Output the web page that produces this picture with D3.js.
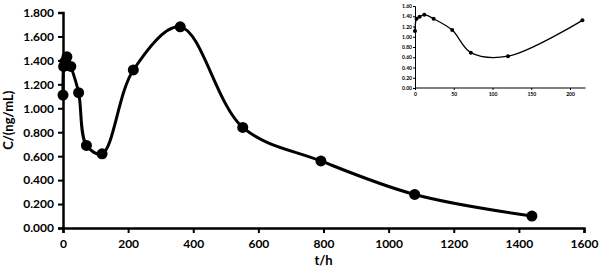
<!DOCTYPE html>
<html>
<head>
<meta charset="utf-8">
<script src="https://cdn.jsdelivr.net/npm/d3@7"></script>
<style>
  body { margin: 0; background: #fff; }
  text { font-family: Lato, "Open Sans", sans-serif; font-weight: bold; fill: #000; }
</style>
</head>
<body>
<div id="chartVis"></div>
<script>
// data
var times = [0, 2, 6, 12, 24, 48, 72, 120, 216, 360, 552, 792, 1080, 1440];
var conc = [1.11, 1.35, 1.39, 1.43, 1.35, 1.13, 0.69, 0.62, 1.32, 1.68, 0.84, 0.56, 0.28, 0.10];
var xTicks = [0, 200, 400, 600, 800, 1000, 1200, 1400, 1600];
var yTicks = [0, 0.2, 0.4, 0.6, 0.8, 1.0, 1.2, 1.4, 1.6, 1.8];
var insetXTicks = [0, 50, 100, 150, 200];
var insetYTicks = [0, 0.2, 0.4, 0.6, 0.8, 1.0, 1.2, 1.4, 1.6];
var insetMaxT = 216;

var data = times.map((t, i) => ({ t: t, c: conc[i] }));

var width = 602, height = 272;
var svg = d3.select("#chartVis").append("svg")
  .attr("width", width)
  .attr("height", height);

// main plot
var x = d3.scaleLinear().domain([0, 1600]).range([63, 584]);
var y = d3.scaleLinear().domain([0, 1.8]).range([228, 12.5]);

var xAxis = svg.append("g")
  .attr("transform", "translate(0," + y(0) + ")")
  .call(d3.axisBottom(x).tickValues(xTicks).tickSize(5).tickPadding(6).tickFormat(d3.format("d")));
var yAxis = svg.append("g")
  .attr("transform", "translate(" + x(0) + ",0)")
  .call(d3.axisLeft(y).tickValues(yTicks).tickSize(5).tickPadding(4).tickFormat(d3.format(".3f")));

[xAxis, yAxis].forEach(a => {
  a.selectAll("path, line").attr("stroke", "#000").attr("stroke-width", 2);
  a.select(".domain").attr("stroke-width", 2.5);
  a.selectAll("text").style("font-size", "12px").style("font-family", "Lato, sans-serif").style("font-weight", "bold");
});

var line = d3.line()
  .x(d => x(d.t))
  .y(d => y(d.c))
  .curve(d3.curveCatmullRom.alpha(0.5));

svg.append("path")
  .datum(data)
  .attr("d", line)
  .attr("fill", "none")
  .attr("stroke", "#000")
  .attr("stroke-width", 3);

svg.selectAll(".pt")
  .data(data)
  .enter().append("circle")
  .attr("cx", d => x(d.t))
  .attr("cy", d => y(d.c))
  .attr("r", 5.5)
  .attr("fill", "#000");

svg.append("text")
  .attr("transform", "translate(13," + y(0.9) + ") rotate(-90)")
  .attr("text-anchor", "middle")
  .style("font-size", "13px")
  .text("C/(ng/mL)");

svg.append("text")
  .attr("x", x(800))
  .attr("y", 265)
  .attr("text-anchor", "middle")
  .style("font-size", "13px")
  .text("t/h");

// inset
var insetData = data.filter(d => d.t <= insetMaxT);
var ix = d3.scaleLinear().domain([0, 200]).range([415, 570]);
var iy = d3.scaleLinear().domain([0, 1.6]).range([88, 6]);

var ixAxis = svg.append("g")
  .attr("transform", "translate(0," + iy(0) + ")")
  .call(d3.axisBottom(ix).tickValues(insetXTicks).tickSize(2).tickPadding(2).tickFormat(d3.format("d")));
ixAxis.select(".domain").attr("d", "M" + ix(0) + ",0H" + ix(insetMaxT + 4));
var iyAxis = svg.append("g")
  .attr("transform", "translate(" + ix(0) + ",0)")
  .call(d3.axisLeft(iy).tickValues(insetYTicks).tickSize(2).tickPadding(1).tickFormat(d3.format(".2f")));

[ixAxis, iyAxis].forEach(a => {
  a.selectAll("path, line").attr("stroke", "#000").attr("stroke-width", 1);
  a.selectAll("text").style("font-size", "5px").style("font-family", "Lato, sans-serif").style("font-weight", "bold");
});

var iline = d3.line()
  .x(d => ix(d.t))
  .y(d => iy(d.c))
  .curve(d3.curveCatmullRom.alpha(0.5));

svg.append("path")
  .datum(insetData)
  .attr("d", iline)
  .attr("fill", "none")
  .attr("stroke", "#000")
  .attr("stroke-width", 1.3);

svg.selectAll(".ipt")
  .data(insetData)
  .enter().append("circle")
  .attr("cx", d => ix(d.t))
  .attr("cy", d => iy(d.c))
  .attr("r", 2)
  .attr("fill", "#000");
</script>
</body>
</html>
